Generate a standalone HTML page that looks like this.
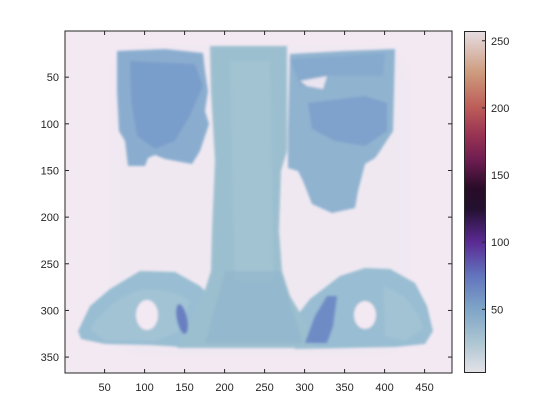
<!DOCTYPE html>
<html><head><meta charset="utf-8"><style>
body{margin:0;background:#fff;}
svg{display:block;font-family:"Liberation Sans",sans-serif;}
</style></head><body>
<svg id="fig" width="560" height="420" viewBox="0 0 560 420">
<defs>
<filter id="blur" x="-10%" y="-10%" width="120%" height="120%"><feGaussianBlur stdDeviation="1.4"/></filter>
<filter id="blur3" x="-20%" y="-20%" width="140%" height="140%"><feGaussianBlur stdDeviation="3.5"/></filter>
<filter id="blur2" x="-20%" y="-20%" width="140%" height="140%"><feGaussianBlur stdDeviation="5"/></filter>
<linearGradient id="cmap" x1="0" y1="1" x2="0" y2="0"></linearGradient>
<clipPath id="axclip"><rect x="65" y="31" width="387" height="342"/></clipPath>
</defs>
<rect x="65" y="31" width="387" height="342" fill="#f3e9f3"/>
<g clip-path="url(#axclip)">
 <g transform="translate(65,31)">
  <g filter="url(#blur2)" opacity="0.3">
   <rect x="45" y="15" width="300" height="310" rx="30" fill="#e8e6ee"/>
  </g>
  <g filter="url(#blur)">
   <!-- left lung -->
   <path d="M52,20 L100,18 L138,22 L140,40 L143,60 L140,80 L144,93 L135,120 L127,133 L100,128 L90,124 L83,127 L80,135 L63,135 L60,110 L54,100 L52,60 Z" fill="#8aadcf"/>
   <path d="M65,30 L130,33 L138,55 L125,85 L110,110 L90,118 L72,105 L66,70 Z" fill="#7499c9" opacity="0.75"/>
   <!-- right lung -->
   <path d="M225,23 L280,20 L330,18 L329,60 L328,100 L315,120 L310,127 L300,133 L293,160 L290,177 L267,182 L247,173 L238,150 L233,140 L223,137 L223,100 L224,60 Z" fill="#90b3d0"/>
   <path d="M243,72 L300,65 L322,72 L322,100 L300,115 L270,110 L247,98 Z" fill="#7599c8" opacity="0.65"/>
   <path d="M225,28 L320,22 L318,45 L265,45 L235,55 Z" fill="#80a4cc" opacity="0.6"/>
   <path d="M235,50 L262,45 L258,58 L242,55 Z" fill="#f3e9f3" opacity="0.9"/>
   <!-- pelvis -->
   <path d="M13,300 L25,275 L45,258 L75,240 L110,241 L135,255 L150,270 L165,295 L170,315 L135,317 L85,314 L40,313 L16,308 Z" fill="#99bdd2"/>
   <path d="M220,300 L245,268 L275,245 L300,237 L325,238 L350,252 L362,275 L368,300 L360,313 L330,316 L230,318 Z" fill="#99bdd2"/>
   <path d="M25,298 Q45,265 80,258 Q110,258 125,270 L115,300 L90,310 L40,310 Z" fill="#a6c6d6" opacity="0.6"/>
   <path d="M318,255 Q350,265 358,298 L340,310 L320,305 Z" fill="#a6c6d6" opacity="0.6"/>
   <!-- column -->
   <path d="M145,15 L222,15 L222,120 L216,140 L214,200 L217,240 L225,265 L240,290 L250,317 L112,317 L125,290 L138,265 L146,240 L147,200 L150,130 L146,60 Z" fill="#9cbfcf"/>
   <path d="M165,30 L205,30 L208,250 L170,250 Z" fill="#a8c8d4" opacity="0.5"/>
   <path d="M160,240 L215,240 L238,312 L140,312 Z" fill="#8fb4cb" opacity="0.6"/>
   <ellipse cx="82" cy="284" rx="11" ry="15" fill="#f3e9f3"/>
   <ellipse cx="300" cy="284" rx="11" ry="14" fill="#f3e9f3"/>
  </g>
  <g filter="url(#blur)" opacity="0.9">
   <ellipse cx="117" cy="288" rx="5" ry="15" transform="rotate(-12 117 288)" fill="#6478c0"/>
   <path d="M262,265 L272,265 L268,295 L262,312 L240,312 L250,285 Z" fill="#6b86c4"/>
  </g>
 </g>
</g>
<rect x="65" y="31" width="387" height="342" fill="none" stroke="#262626" stroke-width="1"/>
<g id="xticks"></g>
<g id="yticks"></g>
<rect id="cbar" x="464.5" y="31.5" width="21" height="341" fill="url(#cmap)" stroke="#262626" stroke-width="1"/>
<g id="cticks"></g>
</svg>
<script>
const xTickValues = [50,100,150,200,250,300,350,400,450];
const yTickValues = [50,100,150,200,250,300,350];
const cTickValues = [50,100,150,200,250];
const cmapValues = [3,25,50,75,100,125,140,160,180,200,225,256];
const cmapColors = ['#e4e2e8','#adc6d2','#7fa5c7','#6274bd','#5a2a93','#22102e','#2a0c28','#6c1c50','#9a3453','#bd5d59','#cd9a7c','#e6dde2'];
const NS='http://www.w3.org/2000/svg';
function xs(v){return 65+(v-0.5)*0.8;}
function ys(v){return 31+(v-0.5)*0.933;}
function cs(v){return 376.5-v*1.343;}
function mk(tag,attrs,parent){const e=document.createElementNS(NS,tag);for(const k in attrs)e.setAttribute(k,attrs[k]);parent.appendChild(e);return e;}
const grad=document.getElementById('cmap');
cmapValues.forEach((v,i)=>{mk('stop',{offset:((v-3)/253).toFixed(4),'stop-color':cmapColors[i]},grad);});
const gx=document.getElementById('xticks');
xTickValues.forEach(v=>{const x=xs(v);
 const t1=mk('line',{x1:x,x2:x,y1:373,y2:369,stroke:'#262626'},gx);
 
 
 mk('line',{x1:x,x2:x,y1:31,y2:35,stroke:'#262626'},gx);
 const t=mk('text',{x:x,y:391,'text-anchor':'middle','font-size':'11',fill:'#262626'},gx);t.textContent=v;
 
 
});
const gy=document.getElementById('yticks');
yTickValues.forEach(v=>{const y=ys(v);
 const t1=mk('line',{x1:65,x2:69,y1:y,y2:y,stroke:'#262626'},gy);
 
 
 mk('line',{x1:452,x2:448,y1:y,y2:y,stroke:'#262626'},gy);
 const t=mk('text',{x:59,y:y+4,'text-anchor':'end','font-size':'11',fill:'#262626'},gy);t.textContent=v;
 
 
});
const gc=document.getElementById('cticks');
cTickValues.forEach(v=>{const y=cs(v);
 const t1=mk('line',{x1:485.5,x2:482,y1:y,y2:y,stroke:'#262626'},gc);
 
 
 const t=mk('text',{x:491,y:y+4,'text-anchor':'start','font-size':'11',fill:'#262626'},gc);t.textContent=v;
 
 
});
</script>
</body></html>
